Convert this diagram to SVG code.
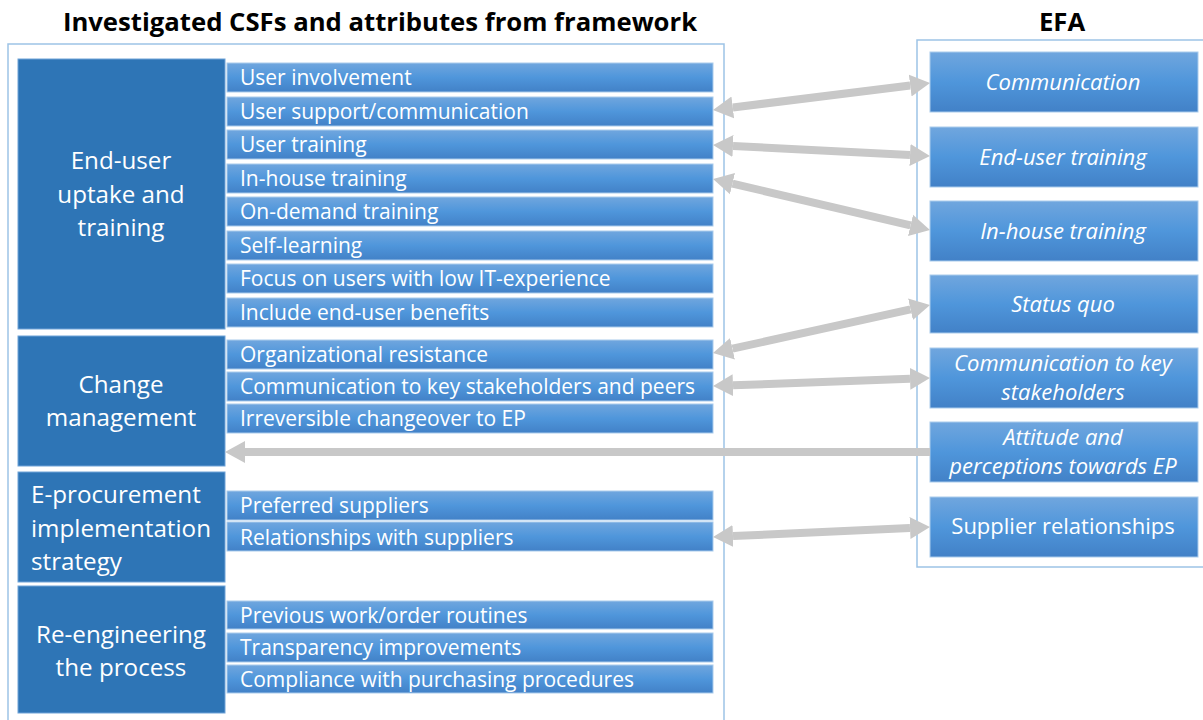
<svg xmlns="http://www.w3.org/2000/svg" width="1203" height="720" viewBox="0 0 1203 720">
  <style>
    .frame { fill: #ffffff; stroke: #9DC3E6; stroke-width: 1.5; }
    .cat { fill: #2E75B6; stroke: #6FA3D8; stroke-width: 1; }
    .bar { fill: url(#barGrad); stroke: #A9CBEC; stroke-width: 1; }
    .efa { fill: url(#barGrad); stroke: #A9CBEC; stroke-width: 1; }
    .title { font-family: "Open Sans", "Liberation Sans", sans-serif; font-weight: bold; font-size: 25.7px; fill: #000000; }
    .catText { font-family: "Open Sans", "Liberation Sans", sans-serif; font-size: 24.2px; fill: #ffffff; }
    .barText { font-family: "Open Sans", "Liberation Sans", sans-serif; font-size: 21px; fill: #ffffff; }
    .efaText { font-family: "Open Sans", "Liberation Sans", sans-serif; font-size: 22px; fill: #ffffff; font-style: italic; text-anchor: middle; }
    .link { stroke: #C8C8C8; stroke-width: 8; fill: none; }
  </style>
  <defs>
    <linearGradient id="barGrad" x1="0" y1="0" x2="0" y2="1">
      <stop offset="0" stop-color="#70A6DE"/>
      <stop offset="0.5" stop-color="#4F96DB"/>
      <stop offset="1" stop-color="#4281C7"/>
    </linearGradient>
    <marker id="head" markerUnits="userSpaceOnUse" viewBox="0 0 20 24" markerWidth="20" markerHeight="24" refX="0" refY="12" orient="auto-start-reverse">
      <path d="M0,1 L20,12 L0,23 Z" fill="#C8C8C8"/>
    </marker>
  </defs>

  <!-- headings -->
  <text class="title" x="380" y="31" text-anchor="middle">Investigated CSFs and attributes from framework</text>
  <text class="title" x="1062" y="31" text-anchor="middle">EFA</text>

  <!-- outer frames -->
  <rect class="frame" x="8" y="44" width="716" height="690"/>
  <rect class="frame" x="917" y="40" width="296" height="527"/>

  <!-- CSF: end-user uptake and training -->
  <g id="csf-end-user">
    <rect class="cat" x="18" y="59" width="207" height="270"/>
    <text class="catText" text-anchor="middle" x="121" y="169">End-user</text>
    <text class="catText" text-anchor="middle" x="121" y="203">uptake and</text>
    <text class="catText" text-anchor="middle" x="121" y="236">training</text>
  </g>
  <g id="attr-user-involvement"><rect class="bar" x="227" y="63" width="486" height="29"/><text class="barText" x="240" y="85">User involvement</text></g>
  <g id="attr-user-support"><rect class="bar" x="227" y="97" width="486" height="29"/><text class="barText" x="240" y="119">User support/communication</text></g>
  <g id="attr-user-training"><rect class="bar" x="227" y="130" width="486" height="29"/><text class="barText" x="240" y="152">User training</text></g>
  <g id="attr-in-house-training"><rect class="bar" x="227" y="164" width="486" height="29"/><text class="barText" x="240" y="186">In-house training</text></g>
  <g id="attr-on-demand-training"><rect class="bar" x="227" y="197" width="486" height="29"/><text class="barText" x="240" y="219">On-demand training</text></g>
  <g id="attr-self-learning"><rect class="bar" x="227" y="231" width="486" height="29"/><text class="barText" x="240" y="253">Self-learning</text></g>
  <g id="attr-low-it"><rect class="bar" x="227" y="264" width="486" height="29"/><text class="barText" x="240" y="286">Focus on users with low IT-experience</text></g>
  <g id="attr-benefits"><rect class="bar" x="227" y="298" width="486" height="29"/><text class="barText" x="240" y="320">Include end-user benefits</text></g>

  <!-- CSF: change management -->
  <g id="csf-change-management">
    <rect class="cat" x="18" y="336" width="207" height="130"/>
    <text class="catText" text-anchor="middle" x="121" y="393">Change</text>
    <text class="catText" text-anchor="middle" x="121" y="426">management</text>
  </g>
  <g id="attr-resistance"><rect class="bar" x="227" y="340" width="486" height="29"/><text class="barText" x="240" y="362">Organizational resistance</text></g>
  <g id="attr-stakeholders"><rect class="bar" x="227" y="372" width="486" height="29"/><text class="barText" x="240" y="394">Communication to key stakeholders and peers</text></g>
  <g id="attr-changeover"><rect class="bar" x="227" y="404" width="486" height="29"/><text class="barText" x="240" y="426">Irreversible changeover to EP</text></g>

  <!-- CSF: e-procurement implementation strategy -->
  <g id="csf-strategy">
    <rect class="cat" x="18" y="472" width="207" height="110"/>
    <text class="catText" x="31" y="503">E-procurement</text>
    <text class="catText" x="31" y="537">implementation</text>
    <text class="catText" x="31" y="570">strategy</text>
  </g>
  <g id="attr-preferred"><rect class="bar" x="227" y="491" width="486" height="29"/><text class="barText" x="240" y="513">Preferred suppliers</text></g>
  <g id="attr-relationships"><rect class="bar" x="227" y="522" width="486" height="29"/><text class="barText" x="240" y="545">Relationships with suppliers</text></g>

  <!-- CSF: re-engineering the process -->
  <g id="csf-reengineering">
    <rect class="cat" x="18" y="586" width="207" height="127"/>
    <text class="catText" text-anchor="middle" x="121" y="643">Re-engineering</text>
    <text class="catText" text-anchor="middle" x="121" y="676">the process</text>
  </g>
  <g id="attr-routines"><rect class="bar" x="227" y="601" width="486" height="28"/><text class="barText" x="240" y="623">Previous work/order routines</text></g>
  <g id="attr-transparency"><rect class="bar" x="227" y="633" width="486" height="29"/><text class="barText" x="240" y="655">Transparency improvements</text></g>
  <g id="attr-compliance"><rect class="bar" x="227" y="665" width="486" height="28"/><text class="barText" x="240" y="687">Compliance with purchasing procedures</text></g>

  <!-- EFA factors -->
  <g id="efa-communication"><rect class="efa" x="930" y="52" width="268" height="60"/><text class="efaText" x="1063" y="90">Communication</text></g>
  <g id="efa-end-user-training"><rect class="efa" x="930" y="127" width="268" height="60"/><text class="efaText" x="1063" y="165">End-user training</text></g>
  <g id="efa-in-house-training"><rect class="efa" x="930" y="201" width="268" height="60"/><text class="efaText" x="1063" y="239">In-house training</text></g>
  <g id="efa-status-quo"><rect class="efa" x="930" y="275" width="268" height="58"/><text class="efaText" x="1063" y="312">Status quo</text></g>
  <g id="efa-key-stakeholders"><rect class="efa" x="930" y="348" width="268" height="60"/><text class="efaText" x="1063" y="371">Communication to key</text><text class="efaText" x="1063" y="400">stakeholders</text></g>
  <g id="efa-attitude"><rect class="efa" x="930" y="422" width="268" height="60"/><text class="efaText" x="1063" y="445">Attitude and</text><text class="efaText" x="1063" y="474">perceptions towards EP</text></g>
  <g id="efa-suppliers"><rect class="efa" x="930" y="497" width="268" height="60"/><text class="efaText" x="1063" y="534" style="font-style: normal">Supplier relationships</text></g>

  <!-- connectors -->
  <g id="connectors">
    <line class="link" x1="732.8" y1="107.5" x2="910.2" y2="85.5" marker-start="url(#head)" marker-end="url(#head)"/>
    <line class="link" x1="733" y1="146" x2="910" y2="155" marker-start="url(#head)" marker-end="url(#head)"/>
    <line class="link" x1="732.5" y1="183.6" x2="910.5" y2="225.4" marker-start="url(#head)" marker-end="url(#head)"/>
    <line class="link" x1="732.5" y1="348.7" x2="910.5" y2="309.3" marker-start="url(#head)" marker-end="url(#head)"/>
    <line class="link" x1="733" y1="385.3" x2="910" y2="378.7" marker-start="url(#head)" marker-end="url(#head)"/>
    <line class="link" x1="930" y1="452" x2="245" y2="452" marker-end="url(#head)"/>
    <line class="link" x1="733" y1="536.1" x2="910" y2="527.9" marker-start="url(#head)" marker-end="url(#head)"/>
  </g>
</svg>
